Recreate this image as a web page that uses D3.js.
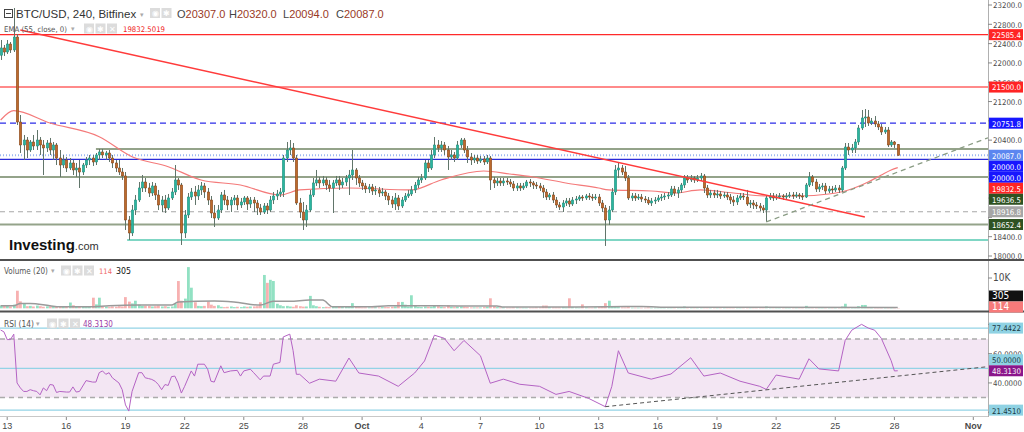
<!DOCTYPE html>
<html><head><meta charset="utf-8">
<script src="https://cdn.jsdelivr.net/npm/d3@7"></script>
<style>
html,body{margin:0;padding:0;background:#fff;}
svg{display:block;font-family:"Liberation Sans",Arial,sans-serif;}
.n{font-family:"Liberation Sans Narrow","DejaVu Sans Condensed","Liberation Sans",Arial,sans-serif;}
</style></head><body>
<svg id="c" width="1024" height="432"></svg>
<script>
// ---------------- DATA ----------------
const firstOpen = 22160;
const closes = [
22310,22226,22392,22268,22537,20776,20300,20403,20196,20362,
20279,20403,20300,20238,20341,20196,20300,20030,19885,19989,
19823,19927,19782,19823,19740,19885,19989,20030,19948,20093,
20155,20093,20134,20030,19927,19823,19740,19658,18746,18477,
18953,19160,19409,19533,19409,19305,19451,19264,19057,19160,
18995,19202,19326,19575,19471,18477,18850,19222,19326,19243,
19368,19451,19326,19160,18891,18787,18953,19264,19160,19057,
19160,19202,19057,19119,19202,19077,19160,19098,18995,18912,
19036,18953,19160,19243,19285,19326,20030,20196,20238,20030,
19098,18912,18746,18953,19264,19513,19575,19513,19575,19471,
19409,19513,19575,19471,19533,19616,19678,19782,19616,19513,
19451,19388,19430,19347,19368,19305,19326,19243,19160,19077,
19202,19036,19160,19243,19285,19368,19471,19575,19616,19927,
19823,20093,20300,20238,20300,20196,20051,20093,20030,20300,
20403,20196,20051,19989,20030,19968,20010,19948,20030,19575,
19513,19554,19513,19554,19533,19492,19409,19451,19409,19451,
19533,19513,19471,19451,19409,19326,19222,19264,19160,19057,
19015,19098,19140,19077,19160,19181,19222,19202,19243,19222,
19202,19222,19098,18995,18746,18953,19326,19782,19823,19740,
19616,19202,19243,19202,19222,19181,19160,19098,19140,19160,
19202,19222,19243,19264,19388,19305,19368,19471,19616,19575,
19616,19575,19616,19658,19409,19264,19305,19264,19285,19243,
19264,19222,19160,19119,19202,19243,19222,19077,19098,19057,
19036,18995,18953,19202,19243,19202,19222,19243,19222,19243,
19264,19243,19264,19243,19222,19471,19637,19533,19388,19430,
19451,19347,19388,19368,19409,19368,19823,20258,20196,20238,
20362,20652,20859,20880,20755,20797,20735,20673,20569,20610,
20300,20362,20307,20087];
const highs = [
22475,22371,22475,22433,23138,22599,20921,20507,20465,20403,
20507,20610,20465,20403,20403,20445,20362,20341,20196,20093,
20051,20030,19989,19927,19989,19927,20051,20093,20093,20134,
20217,20217,20176,20196,20093,19989,19989,19823,19740,18829,
19057,19264,19533,19678,19616,19513,19533,19513,19368,19243,
19264,19285,19409,19885,19616,19513,18953,19305,19409,19451,
19471,19533,19513,19409,19243,19057,19057,19326,19368,19243,
19222,19264,19264,19202,19243,19243,19222,19222,19160,19077,
19098,19098,19243,19326,19368,19409,20093,20362,20403,20341,
20093,19202,19119,19057,19368,19616,19782,19637,19658,19637,
19575,19575,19658,19658,19616,19678,19782,20196,19823,19678,
19575,19513,19492,19492,19451,19430,19409,19368,19305,19243,
19305,19264,19222,19305,19368,19451,19533,19637,19699,19989,
19989,20196,20465,20403,20383,20362,20279,20196,20155,20383,
20445,20445,20279,20134,20093,20093,20072,20072,20093,20072,
19637,19616,19616,19616,19616,19596,19554,19513,19513,19513,
19575,19596,19554,19533,19513,19471,19388,19305,19326,19222,
19119,19160,19202,19202,19222,19243,19264,19264,19285,19305,
19285,19285,19285,19160,19057,19036,19409,19885,19948,19885,
19865,19678,19305,19305,19285,19285,19243,19222,19202,19222,
19264,19285,19305,19326,19451,19451,19430,19513,19678,19678,
19678,19658,19678,19720,19699,19471,19368,19368,19368,19347,
19326,19326,19285,19243,19264,19305,19305,19368,19160,19160,
19119,19098,19057,19243,19305,19305,19285,19305,19285,19305,
19326,19326,19326,19305,19305,19513,19740,19678,19596,19492,
19513,19513,19451,19451,19471,19471,19865,20341,20341,20321,
20424,20714,21025,21045,21025,20859,20900,20797,20735,20673,
20673,20403,20383,20320];
const lows = [
22061,22143,22185,22206,22226,20714,20134,19989,20030,20155,
20196,20196,20093,19678,20155,20093,19989,19885,19637,19823,
19740,19782,19678,19637,19409,19678,19823,19885,19865,19885,
19989,20030,19989,19948,19823,19740,19678,19575,18539,18332,
18414,18850,19119,19326,19326,19222,19243,19160,18953,18912,
18891,18953,19160,19264,19368,18228,18373,18787,19160,19057,
19160,19264,19202,19057,18787,18601,18746,18891,19057,18953,
18912,19057,18953,18995,19057,18953,18995,18912,18850,18850,
18870,18870,18912,19077,19160,19222,19222,19948,20093,19948,
19057,18787,18539,18601,18912,19222,19451,19409,19451,19368,
19326,18891,19451,19368,19409,19451,19264,19575,19471,19430,
19368,19305,19305,19264,19264,19222,19243,19160,19057,18995,
18953,18953,18995,19119,19202,19243,19305,19409,19513,19575,
19740,19782,20030,20155,20155,20093,19782,19989,19948,19989,
20238,20134,19927,19885,19927,19906,19927,19885,19906,19368,
19409,19451,19451,19451,19471,19430,19347,19347,19347,19368,
19409,19430,19388,19388,19347,19202,19160,19160,19098,18995,
18953,18912,19036,19015,19036,19077,19140,19140,19160,19160,
19140,19160,19036,18912,18208,18643,18912,19264,19616,19678,
19554,19160,19140,19140,19160,19119,19098,19057,19036,19077,
19119,19140,19160,19181,19222,19243,19202,19305,19409,19513,
19533,19513,19533,19554,19305,19202,19202,19202,19202,19181,
19202,19160,19077,19036,19057,19160,19160,19036,18995,18974,
18974,18932,18891,18705,19160,19140,19160,19181,19160,19181,
19202,19181,19202,19181,19160,19202,19430,19451,19326,19326,
19368,19285,19305,19305,19326,19305,19326,19782,20093,20134,
20134,20300,20610,20673,20694,20714,20673,20610,20507,20528,
20258,20258,20238,20080];
const volumes = [
900,1000,800,600,1200,5800,2300,1500,700,800,
600,900,700,500,650,650,600,700,650,500,
500,1900,1000,700,700,500,400,450,3500,1300,
3500,600,500,400,600,500,700,600,3700,2200,
1600,2500,1200,800,800,800,600,700,900,600,
700,500,600,1500,9000,2500,3200,13600,6800,2000,
800,700,800,2200,1200,800,1000,500,400,500,
600,400,500,400,600,500,600,600,700,2000,
11000,8400,9400,9000,1500,1000,700,800,600,500,
1000,700,550,600,4100,1000,700,500,400,500,
400,600,400,500,500,700,600,1700,600,400,
300,300,300,300,300,300,400,400,400,500,
600,2100,2100,1200,600,4300,1000,500,400,600,
500,500,800,700,500,400,1000,500,400,500,
600,500,400,300,300,300,300,400,500,3300,
700,400,300,300,200,200,300,300,200,200,
200,200,200,300,300,900,900,400,300,300,
300,400,300,3300,400,300,200,1300,300,200,
200,300,400,600,1700,2500,700,500,400,300,
300,400,200,200,200,200,200,300,200,200,
200,200,200,200,300,300,300,300,600,300,
200,200,200,300,300,300,200,200,200,200,
200,200,200,200,200,200,200,200,200,200,
200,200,300,600,200,200,200,200,200,200,
200,200,200,200,200,800,400,300,200,200,
200,200,200,200,200,300,600,1500,400,300,
400,700,1100,1100,400,300,300,300,300,300,
400,300,200,114];
// [candle index, value]
const emaPoints = [[0,20818],[4,21010],[15,20755],[30,20472],[40,20057],[51,19850],[61,19575],[73,19471],[85,19264],[91,19368],[106,19409],[125,19368],[134,19575],[147,19761],[155,19699],[162,19637],[172,19513],[182,19409],[185,19368],[198,19347],[205,19305],[213,19368],[223,19305],[233,19243],[243,19243],[252,19285],[258,19368],[264,19533],[268,19678],[271,19782],[273,19832.5]];
const volMaPoints = [[0,850],[4,850],[6,1600],[9,1600],[15,850],[18,500],[27,500],[33,850],[42,1050],[52,1050],[54,2100],[65,2450],[71,2100],[79,1050],[83,2350],[88,2350],[94,2700],[98,2700],[101,520],[113,520],[118,850],[128,850],[139,750],[151,750],[153,400],[185,500],[195,600],[204,320],[273,305]];
const rsiPoints = [[0,76.1],[1,74.9],[2,69.6],[3,69.6],[4,73.3],[5,40],[6,36.6],[7,34.2],[8,34.2],[9,35.4],[10,34.7],[11,34.2],[12,31.9],[13,36.6],[14,34.7],[15,38.9],[16,38.6],[17,33.5],[18,34.2],[20,33.8],[21,33.8],[22,37.3],[23,33.8],[24,34.2],[26,41.6],[28,40.6],[29,40.6],[30,47],[31,48.2],[32,45.9],[33,47],[34,43.5],[36,40],[37,35.4],[38,25],[39,20.8],[40,34.2],[42,47],[43,47],[44,43.5],[45,43],[46,42.4],[47,41.2],[48,38.9],[49,35.4],[50,38.9],[51,38.3],[52,44.3],[53,44.7],[54,40],[55,33.1],[56,37.7],[58,48.2],[59,44.7],[60,52.8],[62,52.8],[63,49.4],[64,41.2],[65,40.6],[67,51.7],[68,47],[70,48.2],[72,48.6],[73,44.7],[74,48.2],[76,49.4],[77,47],[79,42.1],[80,44.7],[82,44.7],[83,52.8],[85,54],[86,71.4],[88,73.3],[89,62.1],[90,45.9],[91,45.9],[94,39.8],[97,42.6],[102,41.2],[106,57],[109,46.8],[115,44.7],[121,37.7],[126,46.8],[129,55],[132,72.6],[135,70.5],[138,62],[141,69],[146,58.6],[149,39.8],[153,42.6],[158,39.1],[164,37.7],[169,32.2],[173,34.2],[179,29.4],[184,23.8],[186,37.7],[188,62],[191,46.8],[198,42.6],[204,46.1],[210,57.2],[214,44.7],[219,46.8],[225,41.2],[231,37.7],[233,35.6],[236,45.4],[243,42.6],[246,56.5],[249,49.6],[255,48.2],[257,69],[259,76],[262,80],[264,77.5],[266,76],[268,70.5],[271,55.2],[272,48.2],[273,48.313]];

const priceTicks = [18000,18400,18800,19200,19600,20000,20400,20800,21200,21600,22000,22400,22800,23200];
const rsiTicks = [20,40,60,80];
const volTicks = [10000];
const volTickLabels = ["10K"];
const dateTicks = ["2018-09-13","2018-09-16","2018-09-19","2018-09-22","2018-09-25","2018-09-28","2018-10-01","2018-10-04","2018-10-07","2018-10-10","2018-10-13","2018-10-16","2018-10-19","2018-10-22","2018-10-25","2018-10-28","2018-11-01"];
const dateLabels = ["13","16","19","22","25","28","Oct","4","7","10","13","16","19","22","25","28","Nov"];

// drawings: horizontal levels [value, start index]
const levelValues = [22585.4, 21500.0, 20751.8, 20217, 20087.0, 20000.0, 19636.5, 18916.8, 18652.4, 18330];
const levelStarts = [0, 0, 0, 29, 0, 0, 0, 0, 0, 38.5];
const levelKinds  = ["red","pink","blueDash","olive","blueDot","blue","olive","greyDash","olive","teal"];
const redTrend = [[6,22682],[263,18808]];
const supportTrend = [[233,18705],[292,20231]];
const rsiTrend = [[184,23.8],[300,51]];
const rsiLevels = [77.4422, 50.0, 21.451];

// axis badges
const mainBadgeValues = [22585.4, 21500.0, 20751.8, 20087.0, 20000.0, 20000.0, 19832.5, 19636.5, 18916.8, 18652.4];
const mainBadgeKinds  = ["red","red","blue","lightBlue","blue","blue","red","green","grey","green"];
const volBadgeValues = [305, 114];
const rsiBadgeValues = [77.4422, 50.0, 48.313, 21.451];
const rsiBadgeLabels = ["77.4422","50.0000","48.3130","21.4510"];

const header = {sym:"BTC/USD, 240, Bitfinex", o:"20307.0", h:"20320.0", l:"20094.0", c:"20087.0"};
const emaText = ["EMA (55, close, 0)", "19832.5019"];
const volText = ["Volume (20)", "114", "305"];
const rsiText = ["RSI (14)", "48.3130"];

// ---------------- LAYOUT ----------------
const AX = 988;
const t0 = Date.UTC(2018, 8, 12, 16);
const H4 = 4*3600e3;
const parseD = s => { const [y,m,d] = s.split("-").map(Number); return new Date(Date.UTC(y,m-1,d)); };
const x = d3.scaleUtc().domain([parseD("2018-09-13"), parseD("2018-11-01")]).range([7.2, 973.3]);
const xi = i => x(new Date(t0 + i*H4));
const yP = d3.scaleLinear().domain([18000, 23200]).range([256, 5]);
const yV = d3.scaleLinear().domain([0, 10000]).range([308.3, 278]);
const yR = d3.scaleLinear().domain([30, 70]).range([397.6, 339]);

const C = {bull:"#2bb59f", bullEdge:"#1c8a78", bear:"#bc6a2c", bearEdge:"#7c3c12", wick:"#61756a",
  volBull:"#7fdcb8", volBear:"#f6a3a3"};

const svg = d3.select("#c");
const defs = svg.append("defs");
[["clipMain",0,0,AX,259],["clipVol",0,262,AX,48],["clipRsi",0,313,AX,103]].forEach(([id,x0,y0,w,h])=>{
  defs.append("clipPath").attr("id",id).append("rect").attr("x",x0).attr("y",y0).attr("width",w).attr("height",h);
});
svg.append("rect").attr("width",1024).attr("height",432).attr("fill","#fff");

// helper: narrow text, font shrunk until its natural width fits maxW
function txt(g, xx, yy, s, size, fill, maxW){
  const t = g.append("text").attr("class","n").attr("x",xx).attr("y",yy).attr("font-size",size).attr("fill",fill).text(s);
  if (maxW){
    const w = t.node().getComputedTextLength();
    if (w > maxW) t.attr("font-size", (size*maxW/w).toFixed(2));
  }
  return t;
}

// ---------------- MAIN PANE ----------------
const gM = svg.append("g").attr("clip-path","url(#clipMain)");
const levelStyle = {
  red:{stroke:"#ff2a2a", w:1.2},
  pink:{stroke:"#ff8a8a", w:2},
  blueDash:{stroke:"#2c2ce8", w:1.2, dash:"6,4"},
  olive:{stroke:"#94a38a", w:2},
  blueDot:{stroke:"#9db8f2", w:2, dash:"1,2"},
  blue:{stroke:"#2a2ad8", w:1.3},
  greyDash:{stroke:"#a8a8a8", w:1.2, dash:"5,4"},
  teal:{stroke:"#7fd6c4", w:2}
};
levelValues.forEach((v,k)=>{
  const s = levelStyle[levelKinds[k]];
  gM.append("line").attr("x1", levelStarts[k] ? xi(levelStarts[k]) : 0).attr("x2", AX)
    .attr("y1", yP(v)).attr("y2", yP(v)).attr("stroke", s.stroke).attr("stroke-width", s.w)
    .attr("stroke-dasharray", s.dash || null);
});

// EMA
gM.append("path").datum(emaPoints)
  .attr("d", d3.line().x(d=>xi(d[0])).y(d=>yP(d[1])).curve(d3.curveMonotoneX))
  .attr("fill","none").attr("stroke","#f47a7a").attr("stroke-width",1.2);

// candles
const candles = closes.map((c,i)=>({i, o: i? closes[i-1] : firstOpen, c, h: highs[i], l: lows[i], v: volumes[i]}));
const cg = gM.append("g");
cg.selectAll("line.w").data(candles).join("line").attr("class","w")
  .attr("x1", d=>Math.round(xi(d.i))+0.5).attr("x2", d=>Math.round(xi(d.i))+0.5)
  .attr("y1", d=>yP(d.h)).attr("y2", d=>yP(d.l)).attr("stroke", C.wick).attr("stroke-width",1);
cg.selectAll("rect.b").data(candles).join("rect").attr("class","b")
  .attr("x", d=>Math.round(xi(d.i))-0.7).attr("width", 2.4)
  .attr("y", d=>yP(Math.max(d.o,d.c))).attr("height", d=>Math.max(1, Math.abs(yP(d.o)-yP(d.c))))
  .attr("fill", d=> d.c>=d.o ? C.bull : C.bear)
  .attr("stroke", d=> d.c>=d.o ? C.bullEdge : C.bearEdge).attr("stroke-width",0.5);

// trend lines
function seg(g, pts, xs, ys, extend, style){
  const x1 = xs(pts[0][0]), y1 = ys(pts[0][1]);
  let x2 = xs(pts[1][0]), y2 = ys(pts[1][1]);
  if (extend){ const m = (y2-y1)/(x2-x1); y2 = y1 + m*(AX-x1); x2 = AX; }
  g.append("line").attr("x1",x1).attr("y1",y1).attr("x2",x2).attr("y2",y2)
   .attr("stroke",style.stroke).attr("stroke-width",style.w).attr("stroke-dasharray",style.dash||null);
}
seg(gM, redTrend, xi, yP, false, {stroke:"#ff3b3b", w:1.4});
seg(gM, supportTrend, xi, yP, true, {stroke:"#8a9c84", w:1.3, dash:"5,4"});

// ---------------- VOLUME PANE ----------------
const gV = svg.append("g").attr("clip-path","url(#clipVol)");
gV.selectAll("rect").data(candles).join("rect")
  .attr("x", d=>Math.round(xi(d.i))-1).attr("width",2.8)
  .attr("y", d=>yV(d.v)).attr("height", d=>yV(0)-yV(d.v))
  .attr("fill", d=> d.c>=d.o ? C.volBull : C.volBear).attr("opacity",0.85);
gV.append("path").datum(volMaPoints)
  .attr("d", d3.line().x(d=>xi(d[0])).y(d=>yV(d[1])).curve(d3.curveMonotoneX))
  .attr("fill","none").attr("stroke","#9a9a9a").attr("stroke-width",1.5);

// ---------------- RSI PANE ----------------
const gR = svg.append("g").attr("clip-path","url(#clipRsi)");
gR.append("rect").attr("x",0).attr("width",AX).attr("y",yR(70)).attr("height",yR(30)-yR(70)).attr("fill","#f3e6f3");
[70,30].forEach(v=>gR.append("line").attr("x1",0).attr("x2",AX).attr("y1",yR(v)).attr("y2",yR(v))
  .attr("stroke","#ababab").attr("stroke-width",1.5).attr("stroke-dasharray","5,4"));
rsiLevels.forEach(v=>gR.append("line").attr("x1",0).attr("x2",AX).attr("y1",yR(v)).attr("y2",yR(v))
  .attr("stroke","#93d3e6").attr("stroke-width",1.2));
gR.append("path").datum(rsiPoints)
  .attr("d", d3.line().x(d=>xi(d[0])).y(d=>yR(d[1])))
  .attr("fill","none").attr("stroke","#b463c4").attr("stroke-width",1);
seg(gR, rsiTrend, xi, yR, true, {stroke:"#555", w:1, dash:"4,3"});

// ---------------- SEPARATORS ----------------
svg.append("line").attr("x1",AX+0.5).attr("x2",AX+0.5).attr("y1",0).attr("y2",417).attr("stroke","#b0b0b0");
[260, 311.5].forEach(y=>svg.append("line").attr("x1",0).attr("x2",1024).attr("y1",y).attr("y2",y).attr("stroke","#505050").attr("stroke-width",2));
svg.append("line").attr("x1",0).attr("x2",AX).attr("y1",416.5).attr("y2",416.5).attr("stroke","#c8c8c8");

// ---------------- BADGE PLACEMENT ----------------
const badgeStyle = {red:["#ff2424","#fff"], blue:["#1717ff","#fff"], lightBlue:["#5b86f0","#fff"],
  green:["#2e5222","#fff"], grey:["#a6a6a6","#fff"], black:["#111","#fff"], pinkVol:["#f77a7a","#fff"],
  cyan:["#8fd2e3","#1a3a44"], purple:["#8b168b","#fff"]};
function placeBadges(items, primary, h, maxY){
  items.sort((a,b)=>a.y-b.y);
  const p = items.findIndex(d=>d.key===primary);
  items[p].y = Math.min(items[p].y, maxY);
  for (let k=p+1;k<items.length;k++) items[k].y = Math.max(items[k].y, items[k-1].y + h);
  for (let k=p-1;k>=0;k--) items[k].y = Math.min(items[k].y, items[k+1].y - h);
  return items;
}
const mainBadges = placeBadges(mainBadgeValues.map((v,k)=>({key:k, y:yP(v), kind:mainBadgeKinds[k], label:v.toFixed(1)})), 3, 11, 999);
const volBadges = placeBadges(volBadgeValues.map((v,k)=>({key:k, y:yV(v), kind: k? "pinkVol":"black", label:String(v)})), 1, 11, 307);
const rsiBadges = placeBadges(rsiBadgeValues.map((v,k)=>({key:k, y:yR(v), kind: k===2 ? "purple":"cyan", label:rsiBadgeLabels[k]})), 2, 11, 999);
const allBadgeY = [...mainBadges, ...volBadges, ...rsiBadges].map(d=>d.y);

// fraction of a tick label (y-4..y+3) left visible by the badges
function visibleFraction(y){
  const top = y-4, bot = y+3;
  let covered = 0;
  const spans = allBadgeY.map(by=>[Math.max(top,by-5.5), Math.min(bot,by+5.5)]).filter(s=>s[1]>s[0]).sort((a,b)=>a[0]-b[0]);
  let cur = top;
  spans.forEach(([a,b])=>{ const s = Math.max(a,cur); if (b> s){ covered += b-s; cur = b; } });
  return 1 - covered/(bot-top);
}

// ---------------- AXES ----------------
const axisG = svg.append("g");
function rightTicks(vals, ys, fmt){
  vals.forEach((v,k)=>{
    const y = ys(v);
    axisG.append("line").attr("x1",AX).attr("x2",AX+4).attr("y1",y).attr("y2",y).attr("stroke","#888");
    if (visibleFraction(y) > 0.4) txt(axisG, AX+5, y+3.3, fmt(v,k), 10, "#4a4a4a", 29);
  });
}
rightTicks(priceTicks, yP, v=>v.toFixed(1));
rightTicks(volTicks, yV, (v,k)=>volTickLabels[k]);
rightTicks(rsiTicks, yR, v=>v.toFixed(4));

dateTicks.forEach((s,k)=>{
  const xx = x(parseD(s));
  svg.append("line").attr("x1",xx).attr("x2",xx).attr("y1",417).attr("y2",420).attr("stroke","#888");
  svg.append("text").attr("x",xx).attr("y",428.5).attr("text-anchor","middle").attr("font-size",9)
    .attr("fill","#4a4a4a").attr("font-weight", /[A-Za-z]/.test(dateLabels[k]) ? 700 : 400).text(dateLabels[k]);
});

function drawBadges(items){
  const bg = svg.append("g");
  items.forEach(d=>{
    const [f,t] = badgeStyle[d.kind];
    bg.append("rect").attr("x",AX+1).attr("y",d.y-5.5).attr("width",34).attr("height",11).attr("fill",f);
    txt(bg, AX+4, d.y+3.4, d.label, 10, t, 29);
  });
}
drawBadges(mainBadges);
drawBadges(volBadges);
drawBadges(rsiBadges);

// ---------------- HEADERS ----------------
function icons(x0, y0, n){
  for (let k=0;k<n;k++){
    const xx = x0 + k*11.5;
    svg.append("rect").attr("x",xx).attr("y",y0).attr("width",10).attr("height",10).attr("fill","#dcdcdc");
    const glyph = ["◉","✱","✕"][k];
    svg.append("text").attr("x",xx+5).attr("y",y0+8).attr("text-anchor","middle").attr("font-size",7.5).attr("fill","#fff").text(glyph);
  }
}
function caret(xx, yy){ svg.append("text").attr("x",xx).attr("y",yy).attr("font-size",7).attr("fill","#aaa").text("▾"); }
// collapse icon
svg.append("rect").attr("x",4.5).attr("y",9.5).attr("width",8).attr("height",8).attr("fill","none").attr("stroke","#444");
svg.append("line").attr("x1",6).attr("x2",11).attr("y1",13.5).attr("y2",13.5).attr("stroke","#444");
svg.append("text").attr("x",16).attr("y",18).attr("font-size",11.5).attr("fill","#333").text(header.sym);
caret(140, 17);
icons(150, 8, 2);
[["O",header.o,177],["H",header.h,229],["L",header.l,283],["C",header.c,336]].forEach(([k,v,xx])=>{
  const t = svg.append("text").attr("x",xx).attr("y",18).attr("font-size",11);
  t.append("tspan").attr("fill","#444").text(k);
  t.append("tspan").attr("fill","#9a3a26").text(v);
});
txt(svg, 4, 32, emaText[0], 10.5, "#555", 63);
caret(71, 31);
icons(84, 23.5, 3);
txt(svg, 123, 32, emaText[1], 10.5, "#f02424", 42);

txt(svg, 4, 274, volText[0], 10.5, "#555", 44);
caret(51, 273);
icons(61, 265.5, 3);
txt(svg, 99, 274, volText[1], 10.5, "#f06a6a", 13);
txt(svg, 116, 274, volText[2], 10.5, "#111", 15);

txt(svg, 4, 327, rsiText[0], 10.5, "#555", 30);
caret(36, 326);
icons(47, 318.5, 3);
txt(svg, 83, 327, rsiText[1], 10.5, "#a040a8", 30);

// watermark logo
const logo = svg.append("text").attr("x",9).attr("y",250).attr("font-size",15).attr("font-weight",700).attr("fill","#111");
logo.append("tspan").text("Investing");
logo.append("tspan").attr("font-size",11).attr("font-weight",400).attr("fill","#333").text(".com");
</script>
</body></html>
